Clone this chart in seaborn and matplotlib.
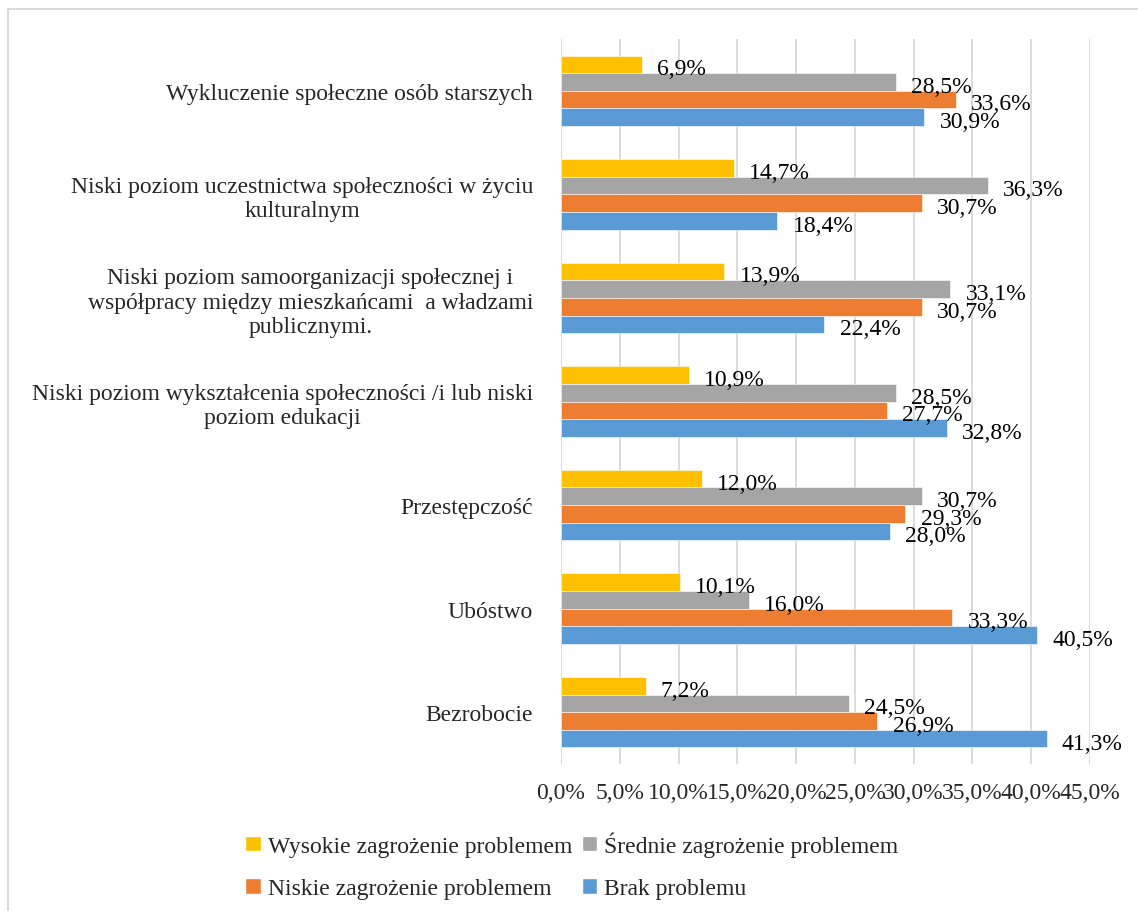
import pandas as pd
import matplotlib.pyplot as plt
from matplotlib.lines import Line2D
from matplotlib.patches import Patch
import seaborn as sns

# data
categories = [
    "Wykluczenie społeczne osób starszych",
    "Niski poziom uczestnictwa społeczności w życiu\nkulturalnym",
    "Niski poziom samoorganizacji społecznej i\nwspółpracy między mieszkańcami  a władzami\npublicznymi.",
    "Niski poziom wykształcenia społeczności /i lub niski\npoziom edukacji",
    "Przestępczość",
    "Ubóstwo",
    "Bezrobocie",
]
series = ["Wysokie zagrożenie problemem", "Średnie zagrożenie problemem",
          "Niskie zagrożenie problemem", "Brak problemu"]
wysokie = [6.9, 14.7, 13.9, 10.9, 12.0, 10.1, 7.2]
srednie = [28.5, 36.3, 33.1, 28.5, 30.7, 16.0, 24.5]
niskie = [33.6, 30.7, 30.7, 27.7, 29.3, 33.3, 26.9]
brak = [30.9, 18.4, 22.4, 32.8, 28.0, 40.5, 41.3]
x_ticks = [0, 5, 10, 15, 20, 25, 30, 35, 40, 45]

colors = ["#FFC000", "#A5A5A5", "#ED7D31", "#5B9BD5"]

rows = []
for s, vals in zip(series, [wysokie, srednie, niskie, brak]):
    for c, v in zip(categories, vals):
        rows.append({"kategoria": c, "seria": s, "wartosc": v})
df = pd.DataFrame(rows)

sns.set_style("white")
plt.rcParams['font.family'] = ['Liberation Serif', 'DejaVu Serif']
FS = 17

fig = plt.figure(figsize=(11.38, 9.12), dpi=100)
ax = fig.add_axes([561 / 1138, 1 - 765 / 912, (1090 - 561) / 1138, (765 - 40) / 912])

sns.barplot(data=df, y="kategoria", x="wartosc", hue="seria", order=categories,
            hue_order=series, palette=colors, orient="h", width=0.68, gap=0,
            saturation=1, ax=ax, legend=False, edgecolor="white", linewidth=0.4)

ax.set_xlim(0, 45)
ax.set_xticks(x_ticks)
ax.set_xticklabels([f"{t:.1f}%".replace(".", ",") for t in x_ticks], fontsize=FS)
ax.grid(axis="x", color="#D9D9D9", linewidth=1.3)
ax.set_axisbelow(True)
for sp in ax.spines.values():
    sp.set_visible(False)
ax.tick_params(axis="both", length=0)
ax.tick_params(axis="x", pad=13)
ax.tick_params(axis="y", pad=20)
ax.set_xlabel("")
ax.set_ylabel("")
for lbl in ax.get_yticklabels():
    lbl.set_fontsize(FS)
    lbl.set_multialignment("center")

# value labels
for cont in ax.containers:
    for bar in cont:
        w = bar.get_width()
        yc = bar.get_y() + bar.get_height() * 0.75
        ax.annotate(f"{w:.1f}%".replace(".", ","), (w, yc), xytext=(11, 0),
                    textcoords="offset points", ha="left", va="center",
                    fontsize=FS, color="black")

handles = [Patch(facecolor=colors[i]) for i in [0, 2, 1, 3]]
labels = [series[i] for i in [0, 2, 1, 3]]
fig.legend(handles, labels, ncol=2, loc="upper left",
           bbox_to_anchor=(224 / 1138, 1 - 811 / 912), frameon=False,
           fontsize=FS, handlelength=0.65, handleheight=0.65, handletextpad=0.3,
           columnspacing=0.4, labelspacing=0.9)

# outer frame (top and left edges)
fig.add_artist(Line2D([8 / 1138, 1], [1 - 10 / 912, 1 - 10 / 912], color="#D9D9D9", linewidth=1.5))
fig.add_artist(Line2D([8 / 1138, 8 / 1138], [0, 1 - 10 / 912], color="#D9D9D9", linewidth=1.5))

fig.savefig("out.png", dpi=100, facecolor="white")
